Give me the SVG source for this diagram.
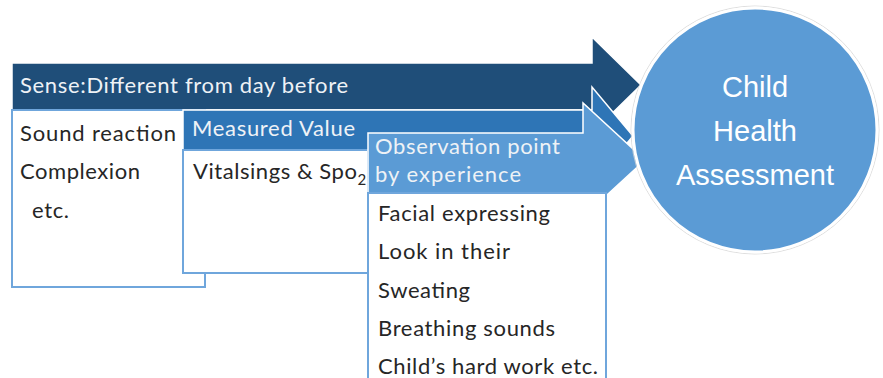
<svg xmlns="http://www.w3.org/2000/svg" width="883" height="378" viewBox="0 0 883 378">
<style>
.arrow{stroke:#ffffff;stroke-width:1.5;stroke-linejoin:miter}
.dark{fill:#1F4E79}
.mid{fill:#2E75B6}
.light{fill:#5B9BD5}
.box{fill:#ffffff;stroke:#6FA6DC;stroke-width:2}
.hd{font-family:Lato,"Liberation Sans",sans-serif;font-size:22px;fill:#EEF2F6}
.tx{font-family:Lato,"Liberation Sans",sans-serif;font-size:22px;fill:#262626}
.ct{font-family:"Liberation Sans",Arial,sans-serif;font-size:29px;fill:#ffffff;text-anchor:middle}
</style>
<rect width="883" height="378" fill="#ffffff"/>
<g id="stage-sense">
<polygon class="arrow dark" points="12,63 592,63 592,37 641,85 592,133 592,110 12,110"/>
<rect class="box" x="12" y="110" width="193" height="177"/>
<text class="hd" x="20" y="93" textLength="328">Sense:Different from day before</text>
<text class="tx" x="20" y="141" textLength="156">Sound reaction</text>
<text class="tx" x="20" y="179" textLength="120">Complexion</text>
<text class="tx" x="32" y="218" textLength="37">etc.</text>
</g>
<g id="stage-measured">
<polygon class="arrow mid" points="183,110 592,110 592,87 633,136 592,185 592,162 183,162"/>
<rect class="box" x="183" y="150" width="185" height="123"/>
<text class="hd" x="192" y="136" textLength="163">Measured Value</text>
<text class="tx" x="193" y="179"><tspan textLength="164">Vitalsings &amp; Spo</tspan><tspan font-size="15" dy="6">2</tspan></text>
</g>
<g id="stage-observation">
<polygon class="arrow light" points="368,133 583,133 583,103 645,160 583,217 583,193 368,193"/>
<rect class="box" x="368" y="193" width="238" height="200"/>
<text class="hd" x="375" y="154" textLength="185">Observation point</text>
<text class="hd" x="375" y="182" textLength="146">by experience</text>
<text class="tx" x="378" y="221" textLength="172">Facial expressing</text>
<text class="tx" x="378" y="259" textLength="132">Look in their</text>
<text class="tx" x="378" y="298" textLength="92">Sweating</text>
<text class="tx" x="378" y="336" textLength="177">Breathing sounds</text>
<text class="tx" x="378" y="374" textLength="220">Child’s hard work etc.</text>
</g>
<g id="connectors"></g>
<g id="assessment">
<circle cx="755" cy="130" r="124" fill="none" stroke="#d6d6d6" stroke-width="0.8"/>
<circle cx="755" cy="130" r="122" fill="#5B9BD5" stroke="#ffffff" stroke-width="3"/>
<text class="ct" x="755" y="97">Child</text>
<text class="ct" x="755" y="141">Health</text>
<text class="ct" x="755" y="185">Assessment</text>
</g>
</svg>
